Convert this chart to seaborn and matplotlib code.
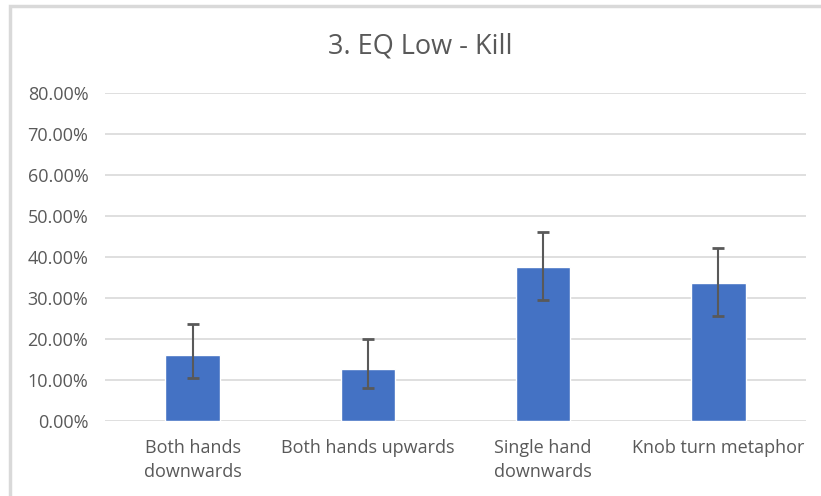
import matplotlib
matplotlib.use("Agg")
import matplotlib.pyplot as plt
import seaborn as sns
import numpy as np
import pandas as pd
from matplotlib.patches import Rectangle
from matplotlib.ticker import PercentFormatter

# Data
categories = ["Both hands\ndownwards", "Both hands upwards", "Single hand\ndownwards", "Knob turn metaphor"]
means = [0.161, 0.128, 0.376, 0.336]
err_low = [0.104, 0.080, 0.295, 0.257]
err_high = [0.236, 0.199, 0.462, 0.422]

df = pd.DataFrame({"Gesture": categories, "Rate": means})

sns.set_style("white")
plt.rcParams["font.family"] = ["Open Sans", "DejaVu Sans"]

text_col = "#595959"
fig = plt.figure(figsize=(8.21, 4.96), dpi=100)
ax = fig.add_axes([105/821, 1 - 421/496, 701/821, (421 - 93)/496])

# chart frame, like the Excel chart area border
fig.patches.append(Rectangle((10/821, -0.1), 1.2, 1 - 6/496 + 0.1, transform=fig.transFigure,
                             fill=False, edgecolor="#D9D9D9", linewidth=2.5, zorder=0))

sns.barplot(data=df, x="Gesture", y="Rate", color="#4472C4", width=0.31,
            errorbar=None, saturation=1, ax=ax, zorder=3)

m = np.array(means)
yerr = np.vstack([m - np.array(err_low), np.array(err_high) - m])
ax.errorbar(np.arange(len(categories)), m, yerr=yerr, fmt="none",
            ecolor="#595959", elinewidth=1.5, capsize=4, capthick=2, zorder=4)

ax.set_ylim(0, 0.8)
ax.set_xlim(-0.5, 3.5)
ax.set_yticks(np.arange(0, 0.81, 0.1))
ax.yaxis.set_major_formatter(PercentFormatter(1.0, decimals=2))
ax.grid(axis="y", color="#D9D9D9", linewidth=1.2, zorder=0)
ax.set_axisbelow(True)
for s in ax.spines.values():
    s.set_visible(False)
ax.tick_params(axis="y", length=0, labelsize=13, colors=text_col, pad=12)
ax.tick_params(axis="x", length=0, labelsize=13, colors=text_col, pad=13)
for lbl in ax.get_xticklabels():
    lbl.set_linespacing(1.45)
ax.set_xlabel("")
ax.set_ylabel("")

fig.text(0.512, 1 - 47/496, "3. EQ Low - Kill", ha="center", va="center",
         fontsize=19.5, color=text_col)

fig.savefig("out.png", dpi=100)
